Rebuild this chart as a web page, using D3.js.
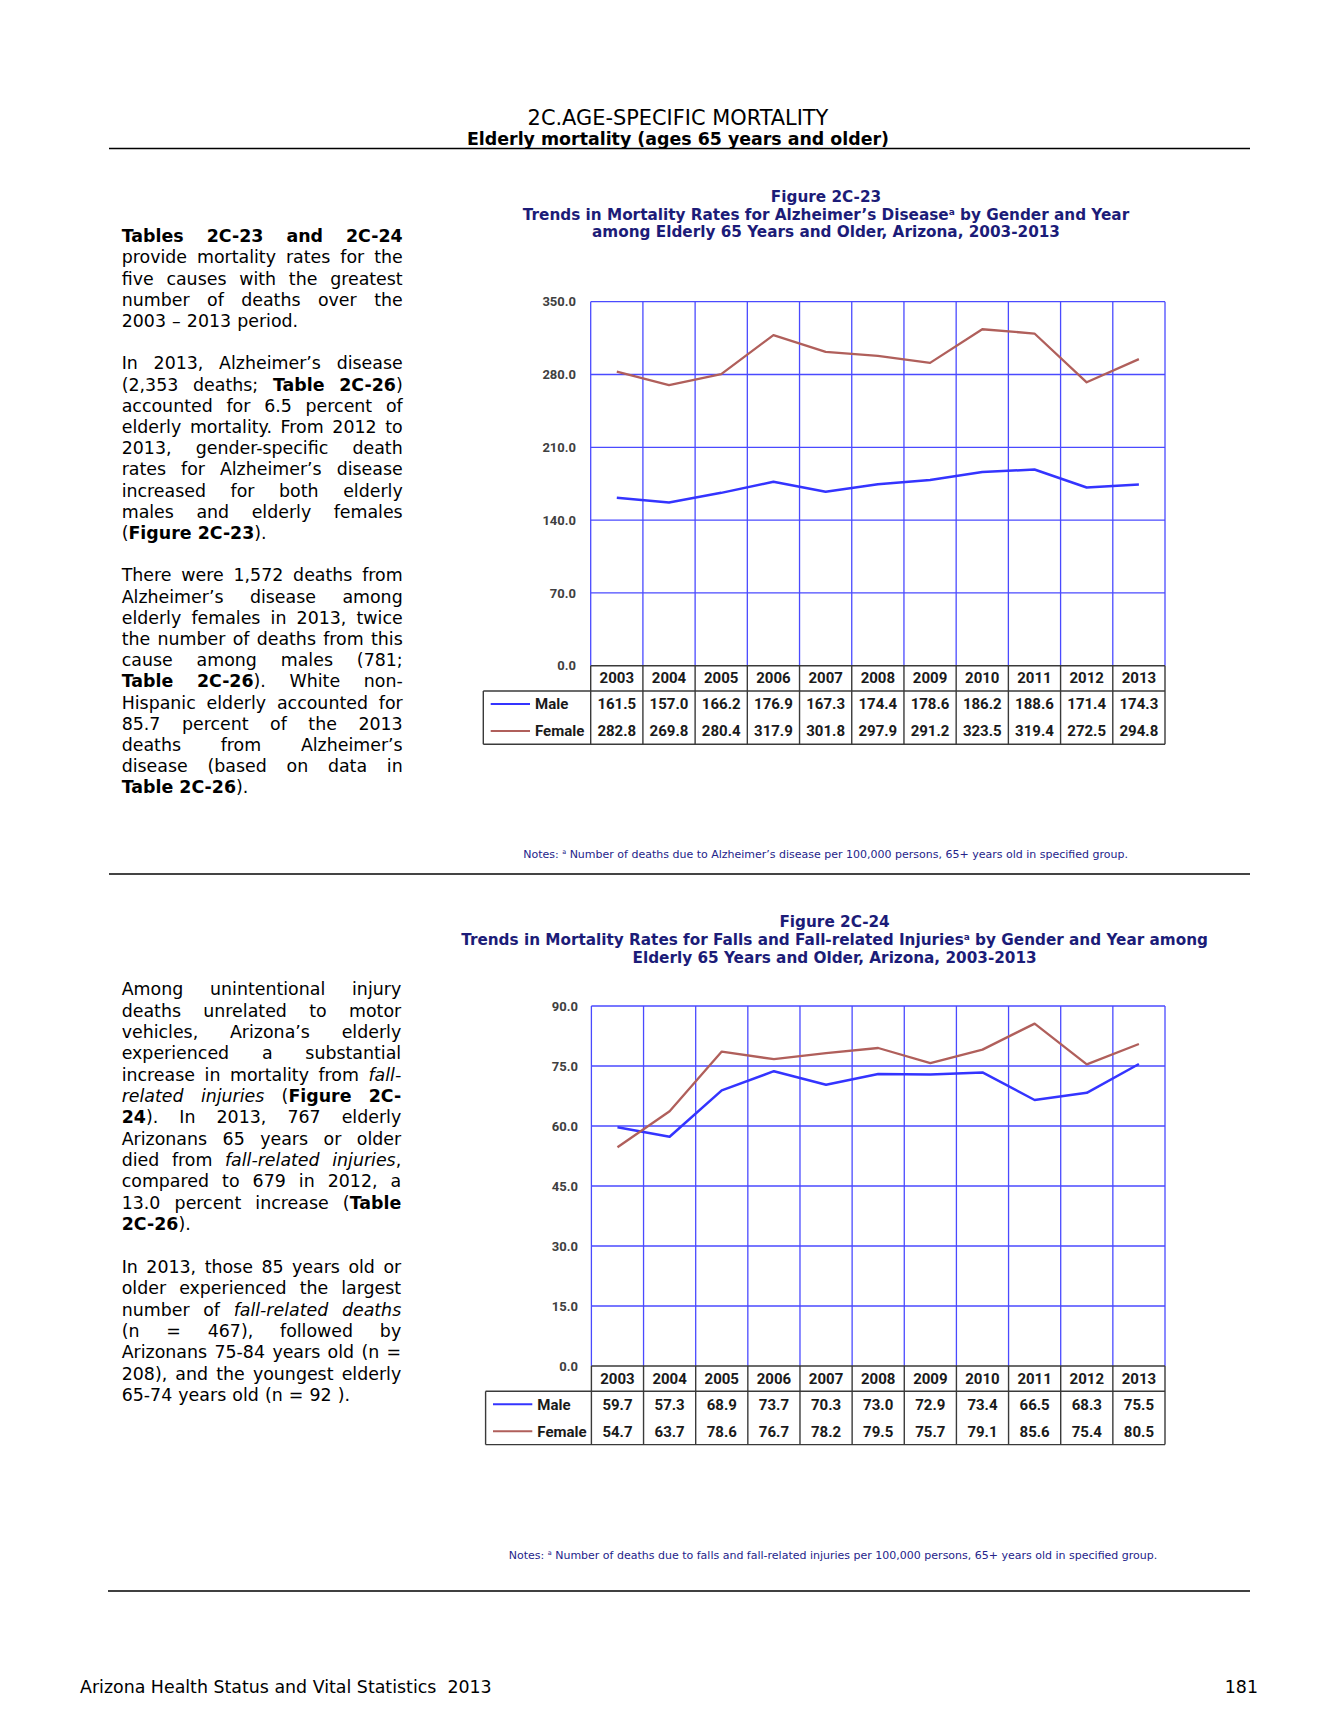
<!DOCTYPE html>
<html>
<head>
<meta charset="utf-8">
<script src="https://cdn.jsdelivr.net/npm/d3@7"></script>
<style>
  body { margin: 0; background: #fff; }
  svg text { white-space: pre; }
</style>
</head>
<body>
<div id="page"></div>
<script>
// --- data -------------------------------------------------------------
const years = ["2003", "2004", "2005", "2006", "2007", "2008", "2009", "2010", "2011", "2012", "2013"];
const seriesNames = ["Male", "Female"];

// Figure 2C-23, Alzheimer's disease, rate per 100,000
const alzMale   = [161.5, 157.0, 166.2, 176.9, 167.3, 174.4, 178.6, 186.2, 188.6, 171.4, 174.3];
const alzFemale = [282.8, 269.8, 280.4, 317.9, 301.8, 297.9, 291.2, 323.5, 319.4, 272.5, 294.8];
const alzTicks  = [0, 70, 140, 210, 280, 350];

// Figure 2C-24, falls and fall-related injuries, rate per 100,000
const fallMale   = [59.7, 57.3, 68.9, 73.7, 70.3, 73.0, 72.9, 73.4, 66.5, 68.3, 75.5];
const fallFemale = [54.7, 63.7, 78.6, 76.7, 78.2, 79.5, 75.7, 79.1, 85.6, 75.4, 80.5];
const fallTicks  = [0, 15, 30, 45, 60, 75, 90];

// --- body text (** = bold, _ = italic) -------------------------------
const text1 = [
  ["**Tables 2C-23 and 2C-24**",
   "provide mortality rates for the",
   "five causes with the greatest",
   "number of deaths over the",
   "2003 – 2013 period."],
  ["In 2013, Alzheimer’s disease",
   "(2,353 deaths; **Table 2C-26**)",
   "accounted for 6.5 percent of",
   "elderly mortality. From 2012 to",
   "2013, gender-specific death",
   "rates for Alzheimer’s disease",
   "increased for both elderly",
   "males and elderly females",
   "(**Figure 2C-23**)."],
  ["There were 1,572 deaths from",
   "Alzheimer’s disease among",
   "elderly females in 2013, twice",
   "the number of deaths from this",
   "cause among males (781;",
   "**Table 2C-26**). White non-",
   "Hispanic elderly accounted for",
   "85.7 percent of the 2013",
   "deaths from Alzheimer’s",
   "disease (based on data in",
   "**Table 2C-26**)."]
];
const text2 = [
  ["Among unintentional injury",
   "deaths unrelated to motor",
   "vehicles, Arizona’s elderly",
   "experienced a substantial",
   "increase in mortality from _fall-_",
   "_related injuries_ (**Figure 2C-**",
   "**24**). In 2013, 767 elderly",
   "Arizonans 65 years or older",
   "died from _fall-related injuries_,",
   "compared to 679 in 2012, a",
   "13.0 percent increase (**Table**",
   "**2C-26**)."],
  ["In 2013, those 85 years old or",
   "older experienced the largest",
   "number of _fall-related deaths_",
   "(n = 467), followed by",
   "Arizonans 75-84 years old (n =",
   "208), and the youngest elderly",
   "65-74 years old (n = 92 )."]
];

// --- page --------------------------------------------------------------
const W = 1338, H = 1731;
const verdana = "'DejaVu Sans', Verdana, sans-serif";
const calibri = "Roboto, 'Liberation Sans', sans-serif";
const navy = "#1c1c78";

const svg = d3.select("#page").append("svg")
    .attr("width", W)
    .attr("height", H)
    .style("font-family", verdana);

// header
svg.append("text")
    .attr("x", 678).attr("y", 117).attr("dy", "0.36em")
    .attr("text-anchor", "middle")
    .style("font-size", "20.9px")
    .text("2C.AGE-SPECIFIC MORTALITY");
svg.append("text")
    .attr("x", 678).attr("y", 139).attr("dy", "0.36em")
    .attr("text-anchor", "middle")
    .style("font-size", "17.4px").style("font-weight", "bold")
    .text("Elderly mortality (ages 65 years and older)");

svg.append("line").attr("x1", 109).attr("x2", 1250).attr("y1", 148.5).attr("y2", 148.5)
    .attr("stroke", "#000").attr("stroke-width", 1.4);
svg.append("line").attr("x1", 109).attr("x2", 1250).attr("y1", 874).attr("y2", 874)
    .attr("stroke", "#444").attr("stroke-width", 2);
svg.append("line").attr("x1", 108).attr("x2", 1250).attr("y1", 1591).attr("y2", 1591)
    .attr("stroke", "#000").attr("stroke-width", 1.4);

// footer
svg.append("text")
    .attr("x", 80).attr("y", 1687).attr("dy", "0.36em")
    .style("font-size", "17.4px")
    .text("Arizona Health Status and Vital Statistics  2013");
svg.append("text")
    .attr("x", 1258).attr("y", 1687).attr("dy", "0.36em")
    .attr("text-anchor", "end")
    .style("font-size", "17.4px")
    .text("181");

// --- justified paragraphs ----------------------------------------------
function parseLine(s) {
  let bold = false, ital = false;
  const chars = [];
  for (let i = 0; i < s.length; i++) {
    if (s.startsWith("**", i)) { bold = !bold; i++; continue; }
    if (s[i] === "_") { ital = !ital; continue; }
    chars.push({c: s[i], b: bold, it: ital});
  }
  const words = [];
  let cur = [];
  chars.forEach(ch => {
    if (ch.c === " ") { if (cur.length) words.push(cur); cur = []; }
    else cur.push(ch);
  });
  if (cur.length) words.push(cur);
  return words.map(w => {
    const runs = [];
    w.forEach(ch => {
      const last = runs[runs.length - 1];
      if (last && last.b === ch.b && last.it === ch.it) last.t += ch.c;
      else runs.push({t: ch.c, b: ch.b, it: ch.it});
    });
    return runs;
  });
}

function drawText(paras, x0, width, y0, lh, fs) {
  const g = svg.append("g").style("font-size", fs + "px");
  let row = 0;
  paras.forEach(lines => {
    lines.forEach((ln, i) => {
      const y = y0 + row * lh;
      const words = parseLine(ln);
      const nodes = words.map(w => {
        const t = g.append("text").attr("y", y).attr("dy", "0.36em");
        w.forEach(r => t.append("tspan")
            .style("font-weight", r.b ? "bold" : null)
            .style("font-style", r.it ? "italic" : null)
            .text(r.t));
        return t;
      });
      const widths = nodes.map(n => n.node().getComputedTextLength());
      const isLast = i === lines.length - 1;
      const gap = (isLast || nodes.length < 2) ? fs * 0.35
          : (width - d3.sum(widths)) / (nodes.length - 1);
      let x = x0;
      nodes.forEach((n, j) => { n.attr("x", x); x += widths[j] + gap; });
      row++;
    });
    row++; // blank line
  });
}

drawText(text1, 121.7, 281, 236, 21.2, 17.4);
drawText(text2, 121.7, 279.5, 989, 21.35, 17.4);

// --- figure titles and notes --------------------------------------------
function drawTitle(cx, ys, lines) {
  const g = svg.append("g")
      .attr("text-anchor", "middle")
      .style("font-size", "15.25px").style("font-weight", "bold")
      .attr("fill", navy);
  lines.forEach((ln, i) => {
    const t = g.append("text").attr("x", cx).attr("y", ys[i]).attr("dy", "0.36em");
    const parts = ln.split("^a");
    t.append("tspan").text(parts[0]);
    if (parts.length > 1) {
      t.append("tspan").attr("dy", -5).style("font-size", "9px").text("a");
      t.append("tspan").attr("dy", 5).text(parts[1]);
    }
  });
}

function drawNote(cx, y, txt) {
  const t = svg.append("text")
      .attr("x", cx).attr("y", y).attr("dy", "0.36em")
      .attr("text-anchor", "middle")
      .style("font-size", "11px")
      .attr("fill", "#24248a");
  t.append("tspan").text("Notes: ");
  t.append("tspan").attr("dy", -4).style("font-size", "6.5px").text("a");
  t.append("tspan").attr("dy", 4).text(" " + txt);
}

drawTitle(826, [197, 214.5, 232], [
  "Figure 2C-23",
  "Trends in Mortality Rates for Alzheimer’s Disease^a by Gender and Year",
  "among Elderly 65 Years and Older, Arizona, 2003-2013"
]);
drawNote(825.6, 854, "Number of deaths due to Alzheimer’s disease per 100,000 persons, 65+ years old in specified group.");

drawTitle(834.6, [922, 940, 958], [
  "Figure 2C-24",
  "Trends in Mortality Rates for Falls and Fall-related Injuries^a by Gender and Year among",
  "Elderly 65 Years and Older, Arizona, 2003-2013"
]);
drawNote(833, 1555, "Number of deaths due to falls and fall-related injuries per 100,000 persons, 65+ years old in specified group.");

// --- line charts with data table ------------------------------------------
const grid = "#4a4aff";
const tableLine = "#3a3a3a";
const seriesColors = ["#3434ff", "#b05f5b"];

function drawChart(box, series, ticks) {
  const g = svg.append("g").style("font-family", calibri);

  const x = d3.scaleBand().domain(years).range([box.left, box.right]);
  const y = d3.scaleLinear().domain([0, d3.max(ticks)]).range([box.bottom, box.top]);
  const bw = x.bandwidth();
  const cx = d => x(d) + bw / 2;

  // horizontal gridlines
  g.append("g").selectAll("line")
      .data(ticks.filter(t => t > 0))
      .join("line")
      .attr("x1", box.left).attr("x2", box.right)
      .attr("y1", d => y(d)).attr("y2", d => y(d))
      .attr("stroke", grid).attr("stroke-width", 1.3);

  // vertical gridlines (band edges)
  const edges = years.map(d => x(d)).concat([box.right]);
  g.append("g").selectAll("line")
      .data(edges)
      .join("line")
      .attr("x1", d => d).attr("x2", d => d)
      .attr("y1", box.top).attr("y2", box.bottom)
      .attr("stroke", grid).attr("stroke-width", 1.3);

  // y axis labels
  const yAxis = d3.axisLeft(y)
      .tickValues(ticks)
      .tickFormat(d3.format(".1f"))
      .tickSize(0)
      .tickPadding(box.left - box.labelRight);
  const ax = g.append("g")
      .attr("transform", `translate(${box.left},0)`)
      .call(yAxis);
  ax.select(".domain").remove();
  ax.selectAll("text")
      .style("font-family", calibri)
      .style("font-size", "13px")
      .style("font-weight", "bold")
      .attr("fill", "#404040");

  // data table
  const rowTop = box.bottom + 25.3;
  const tableBottom = box.bottom + 78.6;
  const rowY = [box.bottom + 38.3, box.bottom + 65.3];

  const t = g.append("g").attr("stroke", tableLine).attr("stroke-width", 1.4);
  t.append("line").attr("x1", box.left).attr("x2", box.right)
      .attr("y1", box.bottom).attr("y2", box.bottom);
  t.append("line").attr("x1", box.legendLeft).attr("x2", box.right)
      .attr("y1", rowTop).attr("y2", rowTop);
  t.append("line").attr("x1", box.legendLeft).attr("x2", box.right)
      .attr("y1", tableBottom).attr("y2", tableBottom);
  t.append("line").attr("x1", box.legendLeft).attr("x2", box.legendLeft)
      .attr("y1", rowTop).attr("y2", tableBottom);
  t.selectAll(".col")
      .data(edges)
      .join("line")
      .attr("class", "col")
      .attr("x1", d => d).attr("x2", d => d)
      .attr("y1", box.bottom).attr("y2", tableBottom);

  const txt = g.append("g")
      .style("font-size", "15px").style("font-weight", "bold")
      .attr("fill", "#1a1a1a");

  txt.selectAll(".yr")
      .data(years)
      .join("text")
      .attr("class", "yr")
      .attr("x", d => cx(d)).attr("y", box.bottom + 12.2).attr("dy", "0.36em")
      .attr("text-anchor", "middle")
      .text(d => d);

  series.forEach((vals, si) => {
    // table row
    txt.selectAll(".v" + si)
        .data(vals)
        .join("text")
        .attr("class", "v" + si)
        .attr("x", (d, i) => cx(years[i])).attr("y", rowY[si]).attr("dy", "0.36em")
        .attr("text-anchor", "middle")
        .text(d => d3.format(".1f")(d));

    // legend key
    g.append("line")
        .attr("x1", box.legendLeft + 7.4).attr("x2", box.legendLeft + 46.7)
        .attr("y1", rowY[si]).attr("y2", rowY[si])
        .attr("stroke", seriesColors[si]).attr("stroke-width", 2);
    txt.append("text")
        .attr("x", box.legendLeft + 51.7).attr("y", rowY[si]).attr("dy", "0.36em")
        .text(seriesNames[si]);

    // series line
    const line = d3.line()
        .x((d, i) => cx(years[i]))
        .y(d => y(d));
    g.append("path")
        .datum(vals)
        .attr("fill", "none")
        .attr("stroke", seriesColors[si])
        .attr("stroke-width", si === 0 ? 2.5 : 2.3)
        .attr("stroke-linejoin", "round")
        .attr("d", line);
  });
}

drawChart({left: 590.7, right: 1165, top: 301.7, bottom: 665.7, legendLeft: 483.3, labelRight: 576},
    [alzMale, alzFemale], alzTicks);
drawChart({left: 591.4, right: 1165, top: 1006, bottom: 1366, legendLeft: 485.6, labelRight: 578},
    [fallMale, fallFemale], fallTicks);
</script>
</body>
</html>
